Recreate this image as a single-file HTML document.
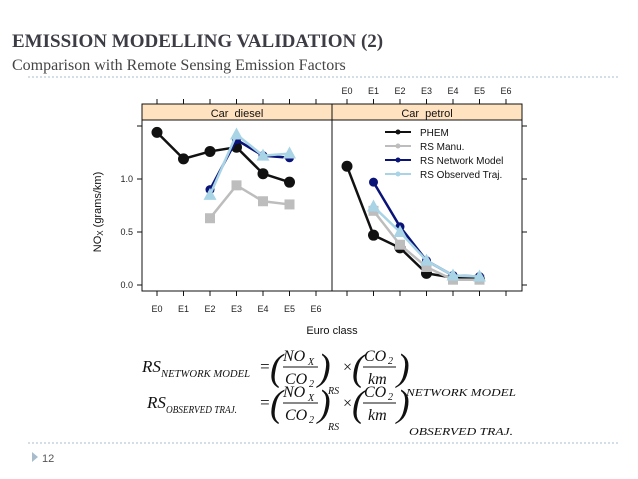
<!DOCTYPE html>
<html><head><meta charset="utf-8"><style>
html,body{margin:0;padding:0;background:#fff;}
svg{display:block;font-family:"Liberation Sans",sans-serif;}
.eq{font-family:"Liberation Serif",serif;font-style:italic;fill:#111;}
</style></head><body>
<svg id="s" width="638" height="479" viewBox="0 0 638 479">
<text x="12" y="47" font-family="Liberation Serif,serif" font-weight="bold" font-size="19" fill="#3c3c44">EMISSION MODELLING VALIDATION (2)</text>
<text x="12" y="70" font-family="Liberation Serif,serif" font-size="16" fill="#444">Comparison with Remote Sensing Emission Factors</text>
<line x1="28" y1="77" x2="620" y2="77" stroke="#a8bccc" stroke-dasharray="2,2"/>
<g id="chart"></g>
<g>
<text class="eq" x="142" y="372" font-size="17">RS</text>
<text class="eq" x="161" y="377" font-size="10" textLength="89" lengthAdjust="spacingAndGlyphs">NETWORK MODEL</text>
<text class="eq" x="259" y="372" font-size="17" font-style="normal">=</text>
<text class="eq" x="270" y="380" font-size="38" font-style="normal">(</text>
<text class="eq" x="283" y="361" font-size="16">NO</text><text class="eq" x="308" y="365" font-size="10">X</text>
<line x1="283" y1="367" x2="318" y2="367" stroke="#111"/>
<text class="eq" x="285" y="384" font-size="16">CO</text><text class="eq" x="309" y="387" font-size="10" font-style="normal">2</text>
<text class="eq" x="318" y="380" font-size="38" font-style="normal">)</text>
<text class="eq" x="328" y="394" font-size="10">RS</text>
<text class="eq" x="342" y="372" font-size="16" font-style="normal">×</text>
<text class="eq" x="352" y="380" font-size="38" font-style="normal">(</text>
<text class="eq" x="364" y="361" font-size="16">CO</text><text class="eq" x="388" y="364" font-size="10" font-style="normal">2</text>
<line x1="363" y1="367" x2="396" y2="367" stroke="#111"/>
<text class="eq" x="368" y="384" font-size="16">km</text>
<text class="eq" x="397" y="380" font-size="38" font-style="normal">)</text>
<text class="eq" x="406" y="396" font-size="10" textLength="110" lengthAdjust="spacingAndGlyphs">NETWORK MODEL</text>
</g>
<g>
<text class="eq" x="147" y="408" font-size="17">RS</text>
<text class="eq" x="166" y="413" font-size="10" textLength="71" lengthAdjust="spacingAndGlyphs">OBSERVED TRAJ.</text>
<text class="eq" x="259" y="408" font-size="17" font-style="normal">=</text>
<text class="eq" x="270" y="416" font-size="38" font-style="normal">(</text>
<text class="eq" x="283" y="397" font-size="16">NO</text><text class="eq" x="308" y="401" font-size="10">X</text>
<line x1="283" y1="403" x2="318" y2="403" stroke="#111"/>
<text class="eq" x="285" y="420" font-size="16">CO</text><text class="eq" x="309" y="423" font-size="10" font-style="normal">2</text>
<text class="eq" x="318" y="416" font-size="38" font-style="normal">)</text>
<text class="eq" x="328" y="430" font-size="10">RS</text>
<text class="eq" x="342" y="408" font-size="16" font-style="normal">×</text>
<text class="eq" x="352" y="416" font-size="38" font-style="normal">(</text>
<text class="eq" x="364" y="397" font-size="16">CO</text><text class="eq" x="388" y="400" font-size="10" font-style="normal">2</text>
<line x1="363" y1="403" x2="396" y2="403" stroke="#111"/>
<text class="eq" x="368" y="420" font-size="16">km</text>
<text class="eq" x="397" y="416" font-size="38" font-style="normal">)</text>
<text class="eq" x="409" y="435" font-size="10" textLength="104" lengthAdjust="spacingAndGlyphs">OBSERVED TRAJ.</text>
</g>
<line x1="28" y1="443" x2="620" y2="443" stroke="#a8bccc" stroke-dasharray="2,2"/>
<polygon points="32,452 38,457 32,462" fill="#a8bccc"/>
<text x="42" y="462" font-size="11" fill="#555">12</text>
</svg>
<script>
const categories=["E0","E1","E2","E3","E4","E5","E6"];
const yTicks=[0,0.5,1.0,1.5];
const yTickLabels=["0.0","0.5","1.0",""];
const panels=["Car diesel","Car petrol"];
const seriesNames=["PHEM","RS Manu.","RS Network Model","RS Observed Traj."];
const dieselPHEM=[1.44,1.19,1.26,1.30,1.05,0.97,null];
const dieselManu=[null,null,0.63,0.94,0.79,0.76,null];
const dieselNetwork=[null,null,0.90,1.37,1.22,1.20,null];
const dieselObserved=[null,null,0.85,1.42,1.22,1.24,null];
const petrolPHEM=[1.12,0.47,0.35,0.11,0.07,0.06,null];
const petrolManu=[null,0.70,0.38,0.17,0.05,0.05,null];
const petrolNetwork=[null,0.97,0.55,0.23,0.09,0.08,null];
const petrolObserved=[null,0.74,0.50,0.23,0.09,0.08,null];

const NS="http://www.w3.org/2000/svg";
const g=document.getElementById('chart');
const panelX=[142,332], panelW=190, topY=104, stripB=120, bottomY=291;
function y(v){return 285-v*(285-179);}
function x(p,i){return panelX[p]+15+i*26.5;}
function el(t,a,parent){const e=document.createElementNS(NS,t);for(const k in a)e.setAttribute(k,a[k]);(parent||g).appendChild(e);return e;}
const styles=[{c:"#111",m:"circle"},{c:"#bdbdbd",m:"square"},{c:"#0a1478",m:"circle"},{c:"#a8d4e6",m:"triangle"}];
const data=[[dieselPHEM,dieselManu,dieselNetwork,dieselObserved],[petrolPHEM,petrolManu,petrolNetwork,petrolObserved]];
for(let p=0;p<2;p++){
  const s=el('rect',{x:panelX[p],y:topY,width:panelW,height:stripB-topY,fill:"#ffe2bf",stroke:"#111","stroke-width":1});
  
  
  const st=el('text',{x:panelX[p]+panelW/2,y:stripB-3,"text-anchor":"middle","font-size":11,fill:"#111"});
  st.textContent=panels[p].replace(' ','\u00a0\u00a0');
  
  
  const f=el('rect',{x:panelX[p],y:stripB,width:panelW,height:bottomY-stripB,fill:"none",stroke:"#111"});
  
  
  categories.forEach((c,i)=>{
    const X=x(p,i);
    el('line',{x1:X,y1:topY-5,x2:X,y2:topY,stroke:"#111"});
    el('line',{x1:X,y1:bottomY,x2:X,y2:bottomY+5,stroke:"#111"});
    if(p===0){const t=el('text',{x:X,y:312,"text-anchor":"middle","font-size":9,fill:"#222"});t.textContent=c;
      
      }
    else{const t=el('text',{x:X,y:94,"text-anchor":"middle","font-size":9,fill:"#222"});t.textContent=c;
      
      }
  });
  data[p].forEach((arr,si)=>{
    const st2=styles[si];let d="";
    arr.forEach((v,i)=>{if(v!==null)d+=(d?"L":"M")+x(p,i)+","+y(v);});
    const pl=el('path',{d:d,fill:"none",stroke:st2.c,"stroke-width":2.5});
    
    
    arr.forEach((v,i)=>{if(v===null)return;const X=x(p,i),Y=y(v);let m;
      if(st2.m==="circle")m=el('circle',{cx:X,cy:Y,r:si===0?5.5:4.5,fill:st2.c});
      else if(st2.m==="square")m=el('rect',{x:X-5,y:Y-5,width:10,height:10,fill:st2.c});
      else m=el('polygon',{points:`${X},${Y-7} ${X-6.5},${Y+5} ${X+6.5},${Y+5}`,fill:st2.c});
      
      });
  });
}
yTicks.forEach((v,i)=>{
  el('line',{x1:137,y1:y(v),x2:142,y2:y(v),stroke:"#111"});
  el('line',{x1:522,y1:y(v),x2:527,y2:y(v),stroke:"#111"});
  const t=el('text',{x:133,y:y(v)+3,"text-anchor":"end","font-size":9,fill:"#222"});t.textContent=yTickLabels[i];
  
  
});
const yl=el('text',{x:0,y:0,transform:"translate(101,212) rotate(-90)","text-anchor":"middle","font-size":11,fill:"#111"});
yl.innerHTML='NO<tspan font-size="8" dy="2">X</tspan><tspan dy="-2"> (grams/km)</tspan>';


const xl=el('text',{x:332,y:334,"text-anchor":"middle","font-size":11,fill:"#111"});xl.textContent="Euro class";


seriesNames.forEach((n,i)=>{
  const Y=132+i*14;
  const lg=el('g',{});
  
  
  el('line',{x1:385,y1:Y,x2:411,y2:Y,stroke:styles[i].c,"stroke-width":2},lg);
  el('circle',{cx:398,cy:Y,r:2.5,fill:styles[i].c},lg);
  const t=el('text',{x:420,y:Y+4,"font-size":10,fill:"#111"},lg);t.textContent=n;
});
</script>
</body></html>
